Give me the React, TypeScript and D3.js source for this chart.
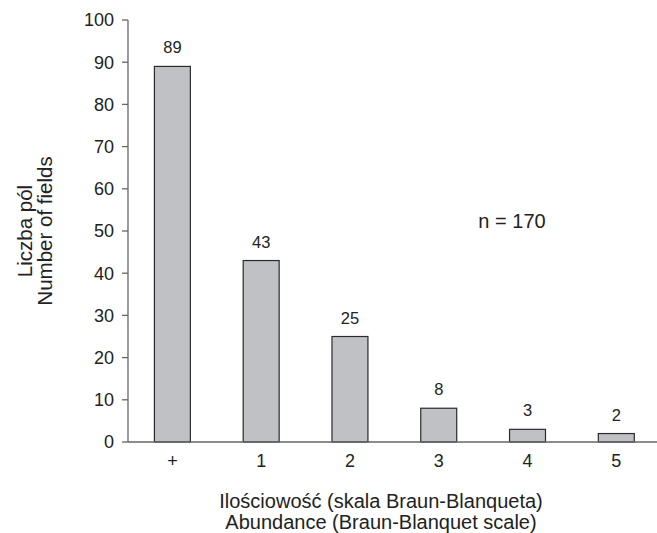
import React from "react";
import * as d3 from "d3";

const categories = ["+", "1", "2", "3", "4", "5"];
const counts = [89, 43, 25, 8, 3, 2];
const yTicks = [0, 10, 20, 30, 40, 50, 60, 70, 80, 90, 100];
const yTitle = ["Liczba pól", "Number of fields"];
const xTitle = ["Ilościowość (skala Braun-Blanqueta)", "Abundance (Braun-Blanquet scale)"];
const note = "n = 170";

const W = 657;
const H = 533;
const FONT = "'Liberation Sans', Arial, sans-serif";

export default function App() {
  const x = d3
    .scaleBand<string>()
    .domain(categories)
    .range([128, 660.7])
    .paddingInner(0.595)
    .paddingOuter(0.2975);
  const y = d3.scaleLinear().domain([0, 100]).range([442, 20]);

  const axisColor = "#666";
  const textColor = "#222";

  return (
    <svg
      width={W}
      height={H}
      style={{ position: "absolute", left: 0, top: 0, background: "#fff" }}
      fontFamily={FONT}
    >
      {/* bars */}
      {counts.map((v, i) => (
        <rect
          key={categories[i]}
          x={x(categories[i])!}
          y={y(v)}
          width={x.bandwidth()}
          height={y(0) - y(v)}
          fill="#c0c1c5"
          stroke="#2a2a2a"
          strokeWidth={1.2}
        />
      ))}

      {/* value labels */}
      {counts.map((v, i) => (
        <text
          key={"v" + i}
          x={x(categories[i])! + x.bandwidth() / 2}
          y={y(v) - 13}
          textAnchor="middle"
          fontSize={16.5}
          fill={textColor}
        >
          {v}
        </text>
      ))}

      {/* y axis */}
      <line x1={128} x2={128} y1={y(100)} y2={y(0)} stroke={axisColor} strokeWidth={1.3} />
      {yTicks.map((t) => (
        <g key={t}>
          <line x1={122} x2={128} y1={y(t)} y2={y(t)} stroke={axisColor} strokeWidth={1.3} />
          <text
            x={114}
            y={y(t)}
            dy="0.35em"
            textAnchor="end"
            fontSize={18}
            fill={textColor}
          >
            {t}
          </text>
        </g>
      ))}

      {/* x axis */}
      <line x1={128} x2={W} y1={y(0)} y2={y(0)} stroke={axisColor} strokeWidth={1.3} />
      {categories.map((c) => (
        <text
          key={c}
          x={x(c)! + x.bandwidth() / 2}
          y={467}
          textAnchor="middle"
          fontSize={18}
          fill={textColor}
        >
          {c}
        </text>
      ))}

      {/* axis titles */}
      {yTitle.map((s, i) => (
        <text
          key={s}
          transform={`translate(${32 + i * 20},231) rotate(-90)`}
          textAnchor="middle"
          fontSize={20.5}
          fill={textColor}
        >
          {s}
        </text>
      ))}
      {xTitle.map((s, i) => (
        <text
          key={s}
          x={381}
          y={508 + i * 20.5}
          textAnchor="middle"
          fontSize={20}
          fill={textColor}
        >
          {s}
        </text>
      ))}

      <text x={512} y={228} textAnchor="middle" fontSize={20} fill={textColor}>
        {note}
      </text>
    </svg>
  );
}
